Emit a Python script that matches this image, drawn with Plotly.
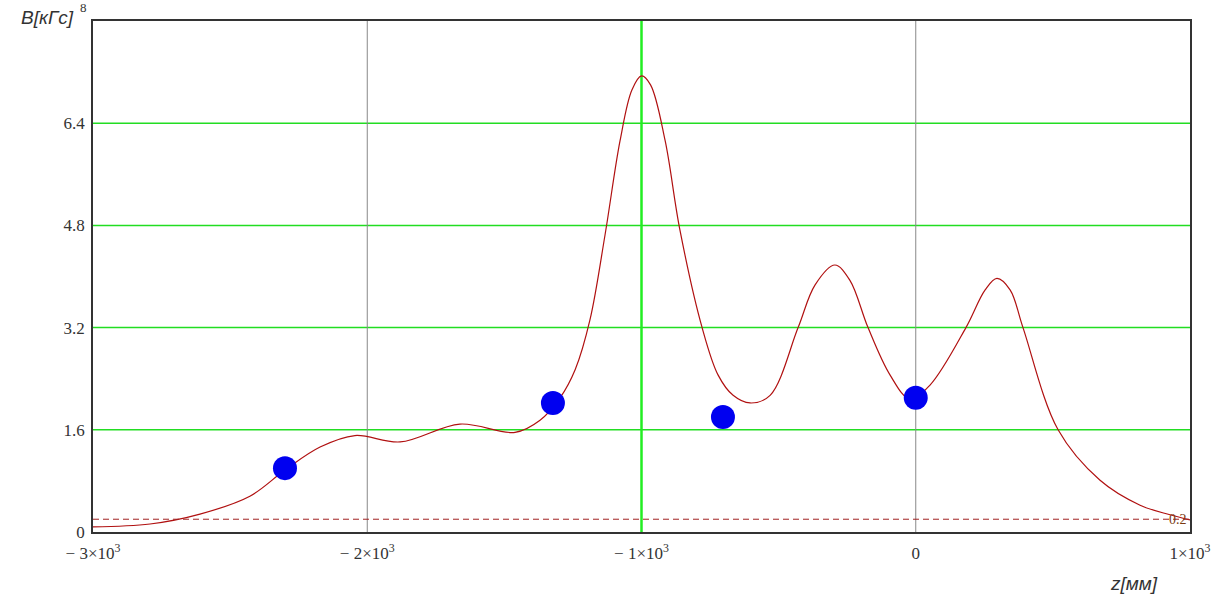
import plotly.graph_objects as go

# Curve B(z)
z_curve = [-3000, -2792, -2610, -2428, -2300, -2172, -2045, -1880, -1662, -1461, -1370,
           -1297, -1242, -1188, -1133, -1078, -1035, -1000, -967, -914, -860, -779, -721,
           -666, -604, -531, -429, -367, -295, -240, -174, -94, -21, 52, 183, 253, 296,
           344, 391, 519, 672, 818, 927, 1000]
b_curve = [0.08, 0.125, 0.28, 0.56, 0.97, 1.33, 1.51, 1.41, 1.69, 1.56, 1.75,
           2.1, 2.54, 3.32, 4.65, 6.13, 6.92, 7.14, 7.0, 6.13, 4.73, 3.2, 2.46,
           2.14, 2.02, 2.14, 3.2, 3.87, 4.18, 3.94, 3.2, 2.46, 2.08, 2.3, 3.2, 3.79, 3.97,
           3.79, 3.2, 1.6, 0.81, 0.42, 0.27, 0.19]

# Measured points
z_points = [-2300, -1323, -703, 0]
b_points = [1.0, 2.02, 1.8, 2.1]

threshold = 0.2

x_ticks = [-3000, -2000, -1000, 0, 1000]
x_labels = ["− 3×10<sup>3</sup>", "− 2×10<sup>3</sup>", "− 1×10<sup>3</sup>", "0", "1×10<sup>3</sup>"]
y_ticks = [0, 1.6, 3.2, 4.8, 6.4]
y_labels = ["0", "1.6", "3.2", "4.8", "6.4"]

fig = go.Figure()

# horizontal green grid lines
for yv in y_ticks[1:]:
    fig.add_shape(type="line", xref="x", yref="y", x0=-3000, x1=1000, y0=yv, y1=yv,
                  line=dict(color="#22DD22", width=1.5), layer="below")
# vertical grey grid lines
for xv in [-2000, 0]:
    fig.add_shape(type="line", xref="x", yref="y", x0=xv, x1=xv, y0=0, y1=8,
                  line=dict(color="#888888", width=1), layer="below")
# vertical green marker line
fig.add_shape(type="line", xref="x", yref="y", x0=-1000, x1=-1000, y0=0, y1=8,
              line=dict(color="#22EE22", width=2.5), layer="below")
# threshold dashed line
fig.add_shape(type="line", xref="x", yref="y", x0=-3000, x1=1000, y0=threshold, y1=threshold,
              line=dict(color="#A02020", width=1, dash="6px,4px"))

fig.add_trace(go.Scatter(x=z_curve, y=b_curve, mode="lines",
                         line=dict(color="#B01010", width=1.2, shape="spline", smoothing=1.0),
                         hoverinfo="skip"))
fig.add_trace(go.Scatter(x=z_points, y=b_points, mode="markers",
                         marker=dict(color="#0000F0", size=24, line=dict(width=0)),
                         hoverinfo="skip"))

fig.add_annotation(x=1000, y=threshold, xref="x", yref="y", text="0.2", showarrow=False,
                   xanchor="right", yanchor="middle", xshift=-1,
                   font=dict(family="Liberation Serif", size=14, color="#7a3a10"))
fig.add_annotation(x=-3000, y=8, xref="x", yref="y", text="8", showarrow=False,
                   xanchor="right", yanchor="bottom", xshift=-4, yshift=4,
                   font=dict(family="Liberation Serif", size=13, color="#333"))
fig.add_annotation(x=0, y=1, xref="paper", yref="paper", text="<i>B[кГс]</i>", showarrow=False,
                   xanchor="right", yanchor="middle", xshift=-17, yshift=4,
                   font=dict(family="Liberation Sans", size=19, color="#333"))
fig.add_annotation(x=1, y=0, xref="paper", yref="paper", text="<i>z[мм]</i>", showarrow=False,
                   xanchor="right", yanchor="top", xshift=-30, yshift=-39,
                   font=dict(family="Liberation Sans", size=19, color="#333"))

fig.update_layout(
    width=1216, height=595,
    margin=dict(l=93, r=26, t=21, b=63),
    plot_bgcolor="white", paper_bgcolor="white",
    showlegend=False,
    font=dict(family="Liberation Serif", size=17, color="#333"),
)
fig.update_xaxes(range=[-3000, 1000], tickvals=x_ticks, ticktext=x_labels,
                 showgrid=False, zeroline=False, showline=True, linecolor="#333", linewidth=1.5,
                 mirror=True, ticks="outside", ticklen=5, tickcolor="rgba(0,0,0,0)",
                 tickfont=dict(family="Liberation Serif", size=17, color="#333"),
                 automargin=False)
fig.update_yaxes(range=[0, 8], tickvals=y_ticks, ticktext=y_labels,
                 showgrid=False, zeroline=False, showline=True, linecolor="#333", linewidth=1.5,
                 mirror=True, ticks="outside", ticklen=3, tickcolor="rgba(0,0,0,0)",
                 tickfont=dict(family="Liberation Serif", size=17, color="#333"),
                 automargin=False)

fig.write_html("out.html", config={"displayModeBar": False},
               post_script="document.body.style.margin='0';document.body.style.overflow='hidden';")
